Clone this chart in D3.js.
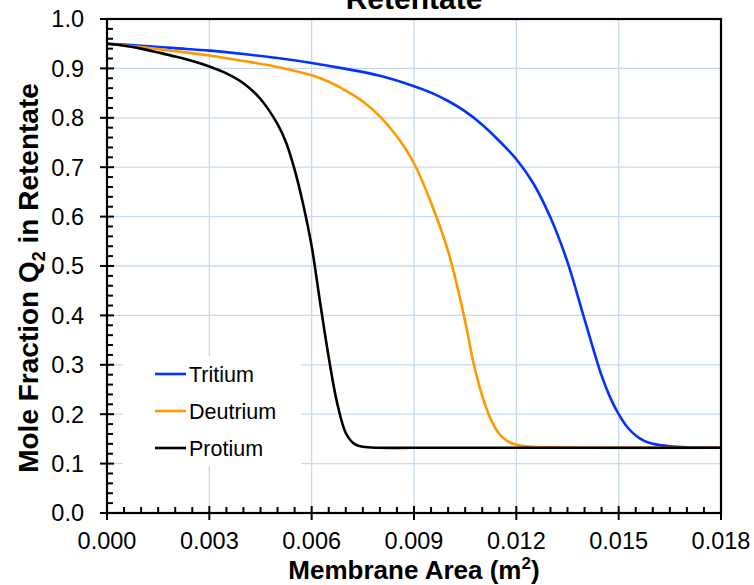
<!DOCTYPE html>
<html>
<head>
<meta charset="utf-8">
<script src="https://d3js.org/d3.v7.min.js"></script>
<style>
  body { margin: 0; background: #fff; }
  text { font-family: "Liberation Sans", Arial, sans-serif; }
</style>
</head>
<body>
<div id="chart"></div>
<script>
// values (area in m^2, mole fraction)
var protiumArea = [0, 0.0005, 0.0010, 0.0015, 0.0020, 0.0025, 0.0030, 0.0035, 0.0040, 0.0045, 0.0050, 0.00525, 0.0055, 0.00575, 0.0060, 0.00625, 0.0065, 0.00675, 0.0070, 0.00725, 0.0075, 0.0080, 0.0090, 0.0180]
var protiumFrac = [0.950, 0.946, 0.940, 0.932, 0.924, 0.915, 0.904, 0.890, 0.870, 0.838, 0.787, 0.750, 0.695, 0.625, 0.540, 0.425, 0.315, 0.222, 0.162, 0.140, 0.134, 0.132, 0.132, 0.132]

var deutriumArea = [0, 0.0010, 0.0020, 0.0030, 0.0040, 0.0050, 0.0060, 0.0065, 0.0070, 0.0075, 0.0080, 0.0085, 0.0090, 0.0095, 0.0100, 0.0105, 0.01075, 0.0110, 0.01125, 0.0115, 0.01175, 0.0120, 0.0125, 0.0130, 0.0140, 0.0180]
var deutriumFrac = [0.950, 0.943, 0.935, 0.926, 0.915, 0.903, 0.886, 0.873, 0.855, 0.833, 0.803, 0.762, 0.708, 0.628, 0.530, 0.388, 0.302, 0.237, 0.190, 0.160, 0.145, 0.138, 0.134, 0.133, 0.132, 0.132]

var tritiumArea = [0, 0.0010, 0.0020, 0.0030, 0.0040, 0.0050, 0.0060, 0.0070, 0.0080, 0.0090, 0.0095, 0.0100, 0.0105, 0.0110, 0.0115, 0.0120, 0.0125, 0.0130, 0.0135, 0.0140, 0.0145, 0.01475, 0.0150, 0.01525, 0.0155, 0.01575, 0.0160, 0.0165, 0.0170, 0.0180]
var tritiumFrac = [0.950, 0.946, 0.941, 0.936, 0.929, 0.921, 0.911, 0.899, 0.885, 0.864, 0.851, 0.834, 0.813, 0.786, 0.753, 0.716, 0.667, 0.598, 0.508, 0.392, 0.278, 0.234, 0.200, 0.174, 0.157, 0.146, 0.140, 0.135, 0.133, 0.132]

var seriesNames = ["Tritium", "Deutrium", "Protium"]
var seriesColors = ["#0033ff", "#ff9900", "#000000"]

var xTicks = [0, 0.003, 0.006, 0.009, 0.012, 0.015, 0.018]
var yTicks = [0, 0.1, 0.2, 0.3, 0.4, 0.5, 0.6, 0.7, 0.8, 0.9, 1.0]

var width = 754
var height = 585
var margin = {top: 19, right: 33, bottom: 72, left: 107}
var plot_width = width - margin.left - margin.right
var plot_height = height - margin.top - margin.bottom
var grid_color = "#c6dbef"

var svg = d3.select("#chart")
  .append("svg")
    .attr("width", width)
    .attr("height", height)

var x = d3.scaleLinear().domain([0, 0.018]).range([margin.left, margin.left + plot_width])
var y = d3.scaleLinear().domain([0, 1]).range([margin.top + plot_height, margin.top])

// gridlines
svg.append("g").selectAll("line.vgrid")
  .data(xTicks.slice(1, -1))
  .enter().append("line")
    .attr("x1", d => x(d)).attr("x2", d => x(d))
    .attr("y1", y(0)).attr("y2", y(1))
    .attr("stroke", grid_color).attr("stroke-width", 1.3)

svg.append("g").selectAll("line.hgrid")
  .data(yTicks.slice(1, -1))
  .enter().append("line")
    .attr("x1", x(0)).attr("x2", x(0.018))
    .attr("y1", d => y(d)).attr("y2", d => y(d))
    .attr("stroke", grid_color).attr("stroke-width", 1.3)

// legend background hides the grid behind it
svg.append("rect")
  .attr("x", 123).attr("y", 356)
  .attr("width", 178).attr("height", 110)
  .attr("fill", "#fff")

svg.append("clipPath").attr("id", "clip")
  .append("rect")
    .attr("x", margin.left).attr("y", margin.top)
    .attr("width", plot_width).attr("height", plot_height)

var line = d3.line()
  .x(d => x(d[0]))
  .y(d => y(d[1]))
  .curve(d3.curveCatmullRom.alpha(0.5))

var series = [
  d3.zip(tritiumArea, tritiumFrac),
  d3.zip(deutriumArea, deutriumFrac),
  d3.zip(protiumArea, protiumFrac)
]

svg.append("g").attr("clip-path", "url(#clip)")
  .selectAll("path")
  .data(series)
  .enter().append("path")
    .attr("d", line)
    .attr("fill", "none")
    .attr("stroke", (d, i) => seriesColors[i])
    .attr("stroke-width", 2.6)

// frame
svg.append("rect")
  .attr("x", margin.left).attr("y", margin.top)
  .attr("width", plot_width).attr("height", plot_height)
  .attr("fill", "none")
  .attr("stroke", "#000")
  .attr("stroke-width", 2.2)

// x axis: major ticks cross, minor ticks inside
var xAxis = svg.append("g")
xAxis.selectAll("line.minor")
  .data(d3.range(1, 36).filter(i => i % 6 != 0).map(i => i * 0.0005))
  .enter().append("line")
    .attr("x1", d => x(d)).attr("x2", d => x(d))
    .attr("y1", y(0)).attr("y2", y(0) - 6)
    .attr("stroke", "#000").attr("stroke-width", 2)
xAxis.selectAll("line.major")
  .data(xTicks)
  .enter().append("line")
    .attr("x1", d => x(d)).attr("x2", d => x(d))
    .attr("y1", y(0) - 7).attr("y2", y(0) + 7)
    .attr("stroke", "#000").attr("stroke-width", 2)
xAxis.selectAll("text")
  .data(xTicks)
  .enter().append("text")
    .attr("x", d => x(d))
    .attr("y", y(0) + 36)
    .attr("text-anchor", "middle")
    .attr("font-size", 23.5)
    .text(d => d3.format(".3f")(d))

// y axis
var yAxis = svg.append("g")
yAxis.selectAll("line.minor")
  .data(d3.range(1, 50).filter(i => i % 5 != 0).map(i => i * 0.02))
  .enter().append("line")
    .attr("x1", x(0)).attr("x2", x(0) + 6)
    .attr("y1", d => y(d)).attr("y2", d => y(d))
    .attr("stroke", "#000").attr("stroke-width", 2)
yAxis.selectAll("line.major")
  .data(yTicks)
  .enter().append("line")
    .attr("x1", x(0) - 7).attr("x2", x(0) + 7)
    .attr("y1", d => y(d)).attr("y2", d => y(d))
    .attr("stroke", "#000").attr("stroke-width", 2)
yAxis.selectAll("text")
  .data(yTicks)
  .enter().append("text")
    .attr("x", 84)
    .attr("y", d => y(d))
    .attr("dy", "0.36em")
    .attr("text-anchor", "end")
    .attr("font-size", 23.5)
    .text(d => d3.format(".1f")(d))

// titles
svg.append("text")
  .attr("x", margin.left + plot_width / 2)
  .attr("y", 9)
  .attr("text-anchor", "middle")
  .attr("font-size", 30)
  .attr("font-weight", "bold")
  .text("Retentate")

var xTitle = svg.append("text")
  .attr("x", margin.left + plot_width / 2)
  .attr("y", 579)
  .attr("text-anchor", "middle")
  .attr("font-size", 26)
  .attr("font-weight", "bold")
xTitle.append("tspan").text("Membrane Area (m")
xTitle.append("tspan").attr("font-size", 17).attr("dy", -10).text("2")
xTitle.append("tspan").attr("dy", 10).text(")")

var yTitle = svg.append("text")
  .attr("transform", "translate(38,278) rotate(-90)")
  .attr("text-anchor", "middle")
  .attr("font-size", 28)
  .attr("font-weight", "bold")
yTitle.append("tspan").text("Mole Fraction Q")
yTitle.append("tspan").attr("font-size", 18).attr("dy", 7).text("2")
yTitle.append("tspan").attr("dy", -7).text(" in Retentate")

// legend
var legend = svg.append("g")
  .selectAll("g")
  .data(seriesNames)
  .enter().append("g")
    .attr("transform", (d, i) => "translate(155," + (374 + i * 37) + ")")
legend.append("line")
  .attr("x1", 0).attr("x2", 31)
  .attr("stroke", (d, i) => seriesColors[i])
  .attr("stroke-width", 2.6)
legend.append("text")
  .attr("x", 34)
  .attr("dy", "0.36em")
  .attr("font-size", 21.5)
  .text(d => d)
</script>
</body>
</html>
